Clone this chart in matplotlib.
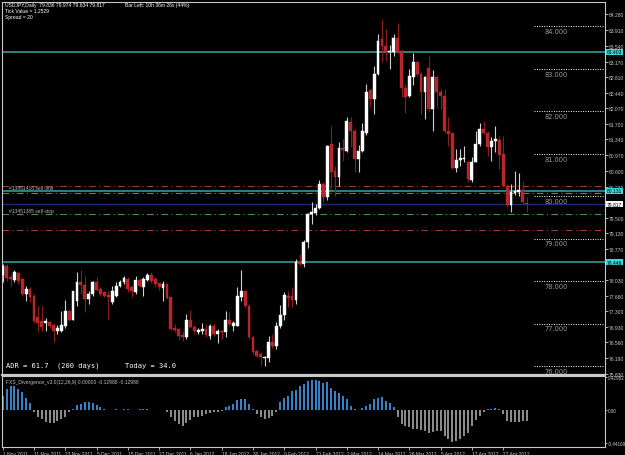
import matplotlib.pyplot as plt
import matplotlib.transforms as mtransforms

# USDJPY daily candles, 1 Nov 2011 .. 2 May 2012
opens = [78.15, 78.35, 78.10, 78.04, 78.20, 78.05, 77.70, 77.82, 77.66, 77.15,
         77.07, 77.02, 77.05, 76.97, 76.84, 76.84, 76.94, 77.31, 77.10, 77.54,
         77.99, 77.91, 77.58, 77.70, 77.98, 77.82, 77.74, 77.68, 77.51, 77.66,
         77.90, 77.99, 78.05, 77.86, 77.74, 78.03, 77.87, 78.03, 78.15, 78.05,
         77.95, 77.84, 77.93, 77.62, 76.91, 76.88, 76.74, 76.70, 77.09, 76.92,
         76.80, 76.82, 76.88, 76.72, 76.95, 76.76, 76.84, 76.80, 77.09, 76.95,
         76.95, 77.64, 77.78, 77.42, 76.68, 76.35, 76.29, 76.20, 76.20, 76.56,
         76.48, 76.95, 77.20, 77.66, 77.65, 77.55, 78.46, 78.41, 78.92, 79.58,
         79.61, 79.72, 80.29, 79.98, 81.23, 80.60, 80.45, 81.13, 81.07, 81.76,
         81.54, 80.88, 81.07, 81.50, 82.51, 82.30, 82.88, 83.69, 83.54, 83.40,
         83.39, 83.72, 83.39, 82.56, 82.37, 82.80, 83.17, 82.88, 82.45, 83.01,
         82.05, 82.80, 82.45, 82.37, 81.54, 81.49, 80.66, 80.85, 80.87, 80.81,
         80.39, 80.81, 81.23, 81.58, 81.49, 81.15, 81.29, 81.33, 80.99, 80.25,
         79.80, 80.08, 80.10, 80.15, 79.836]
highs = [78.41, 78.41, 78.17, 78.27, 78.21, 78.09, 77.88, 77.86, 77.70, 77.43,
         77.41, 77.13, 77.07, 77.02, 76.97, 77.31, 77.57, 77.33, 77.78, 78.23,
         78.27, 78.12, 77.78, 78.01, 78.09, 77.86, 77.78, 77.78, 77.90, 77.98,
         78.04, 78.13, 78.09, 77.91, 78.13, 78.07, 78.09, 78.19, 78.21, 78.09,
         77.97, 78.01, 77.95, 77.64, 76.99, 76.90, 76.84, 77.23, 77.32, 76.98,
         76.90, 77.03, 76.99, 76.99, 77.03, 76.88, 76.86, 77.31, 77.27, 77.07,
         77.86, 78.26, 77.79, 77.46, 76.72, 76.40, 76.33, 76.25, 76.72, 76.77,
         77.05, 77.45, 77.74, 77.78, 77.86, 78.52, 78.64, 78.96, 79.61, 79.87,
         79.82, 80.39, 80.33, 81.21, 81.66, 80.72, 81.28, 81.36, 81.86, 81.86,
         81.58, 81.21, 81.72, 82.64, 82.52, 83.07, 83.82, 84.17, 83.94, 83.56,
         83.82, 84.08, 83.47, 82.64, 83.00, 83.37, 83.19, 82.93, 82.84, 83.29,
         82.98, 82.84, 82.52, 82.52, 81.86, 81.50, 81.11, 81.11, 81.19, 80.84,
         80.92, 81.54, 81.72, 81.78, 81.54, 81.39, 81.66, 81.41, 81.43, 80.29,
         80.29, 80.60, 80.55, 80.37, 79.974]
lows = [77.98, 78.01, 77.90, 77.98, 77.94, 77.66, 77.54, 77.51, 77.03, 76.80,
        76.84, 76.84, 76.89, 76.56, 76.76, 76.81, 76.89, 77.07, 77.10, 77.43,
        77.70, 77.27, 77.47, 77.66, 77.76, 77.66, 77.62, 77.11, 77.47, 77.62,
        77.86, 77.94, 77.74, 77.62, 77.70, 77.86, 77.66, 78.00, 77.97, 77.86,
        77.79, 77.54, 77.58, 76.85, 76.80, 76.62, 76.59, 76.64, 76.90, 76.77,
        76.76, 76.77, 76.68, 76.64, 76.72, 76.54, 76.64, 76.68, 76.95, 76.84,
        76.95, 77.54, 77.39, 76.64, 76.29, 76.21, 76.04, 76.01, 76.11, 76.44,
        76.40, 76.90, 77.10, 77.39, 77.39, 77.47, 78.37, 78.33, 78.78, 79.35,
        79.55, 79.70, 79.86, 79.92, 80.17, 80.00, 80.25, 80.84, 81.05, 81.15,
        80.56, 80.56, 81.05, 81.44, 82.09, 81.94, 82.85, 83.17, 83.19, 83.00,
        83.31, 83.35, 82.33, 81.97, 82.33, 82.62, 82.84, 81.94, 81.82, 82.01,
        81.54, 82.09, 82.05, 81.50, 81.19, 80.64, 80.58, 80.72, 80.81, 80.33,
        80.33, 80.80, 81.19, 81.47, 80.96, 80.84, 81.05, 80.64, 80.21, 79.74,
        79.62, 80.02, 80.01, 79.82, 79.634]
closes = [78.35, 78.07, 78.05, 78.23, 78.01, 77.70, 77.82, 77.62, 77.07, 77.02,
          76.92, 77.06, 76.94, 76.84, 76.89, 76.96, 77.31, 77.10, 77.76, 77.99,
          77.91, 77.58, 77.70, 77.98, 77.80, 77.70, 77.66, 77.62, 77.76, 77.90,
          77.99, 78.07, 77.83, 77.78, 78.02, 77.90, 78.05, 78.15, 78.01, 77.93,
          77.86, 77.93, 77.60, 76.88, 76.85, 76.72, 76.70, 77.09, 76.93, 76.82,
          76.86, 76.87, 76.74, 76.95, 76.76, 76.84, 76.80, 77.09, 76.99, 77.01,
          77.66, 77.78, 77.42, 76.68, 76.33, 76.25, 76.21, 76.23, 76.56, 76.48,
          76.95, 77.20, 77.68, 77.60, 77.55, 78.45, 78.41, 78.92, 79.58, 79.64,
          79.72, 80.29, 79.98, 81.19, 80.58, 80.45, 81.13, 81.10, 81.78, 81.54,
          80.88, 81.07, 81.54, 82.45, 82.30, 82.88, 83.66, 83.54, 83.43, 83.42,
          83.72, 83.39, 82.56, 82.33, 82.84, 83.17, 82.88, 82.45, 82.80, 82.05,
          82.80, 82.45, 82.37, 81.54, 81.47, 80.66, 80.86, 80.90, 80.90, 80.41,
          80.81, 81.23, 81.58, 81.49, 81.15, 81.31, 81.35, 80.97, 80.25, 79.80,
          80.09, 80.13, 80.15, 79.86, 79.817]

# FXS_Divergence histogram
divergence = [0.185, 0.27, 0.31, 0.31, 0.27, 0.23, 0.16, 0.09, -0.035, -0.09,
              -0.12, -0.16, -0.17, -0.17, -0.15, -0.12, -0.09, -0.035, 0.01, 0.06,
              0.08, 0.10, 0.10, 0.09, 0.06, 0.03, 0.01, -0.01, -0.005, 0.003,
              0.0, 0.004, 0.004, 0.002, -0.002, 0.003, 0.004, 0.003, 0.002, 0.0,
              0.0, -0.01, -0.03, -0.10, -0.15, -0.19, -0.21, -0.18, -0.13, -0.10,
              -0.09, -0.088, -0.057, -0.044, -0.035, -0.026, -0.013, 0.031, 0.053, 0.075,
              0.132, 0.141, 0.141, 0.075, 0.01, -0.057, -0.10, -0.12, -0.115, -0.08,
              -0.035, 0.097, 0.15, 0.185, 0.24, 0.265, 0.317, 0.34, 0.38, 0.39,
              0.39, 0.38, 0.35, 0.37, 0.29, 0.25, 0.22, 0.185, 0.14, 0.053,
              0.01, -0.01, 0.018, 0.044, 0.075, 0.141, 0.15, 0.163, 0.119, 0.088,
              0.03, -0.10, -0.19, -0.21, -0.23, -0.25, -0.26, -0.27, -0.28, -0.30,
              -0.29, -0.28, -0.28, -0.34, -0.39, -0.42, -0.41, -0.39, -0.34, -0.30,
              -0.21, -0.14, -0.08, -0.03, 0.005, 0.01, 0.018, 0.01, -0.06, -0.146,
              -0.168, -0.159, -0.159, -0.146, -0.146]

date_labels = ['1 Nov 2011', '11 Nov 2011', '23 Nov 2011', '5 Dec 2011', '15 Dec 2011',
               '27 Dec 2011', '6 Jan 2012', '18 Jan 2012', '30 Jan 2012', '9 Feb 2012',
               '21 Feb 2012', '2 Mar 2012', '14 Mar 2012', '26 Mar 2012', '5 Apr 2012',
               '17 Apr 2012', '27 Apr 2012']

price_ticks = [84.28, 83.91, 83.54, 83.17, 82.81, 82.44, 82.07, 81.70, 81.34, 80.97,
               80.60, 80.23, 79.50, 79.13, 78.77, 78.03, 77.66, 77.30, 76.93,
               76.56, 76.19, 75.83]
round_levels = [84, 83, 82, 81, 80, 79, 78, 77, 76]

BULL = 'white'
BEAR = '#b8262b'
FG = '#c8c8c8'
SMALL = 'Liberation Sans'

W, H = 625, 456
fig = plt.figure(figsize=(W / 100, H / 100), dpi=100, facecolor='black')
ax = fig.add_axes([2 / W, (H - 376) / H, 603 / W, 373 / H], facecolor='black')
ax2 = fig.add_axes([2 / W, (H - 448) / H, 603 / W, 71 / H], facecolor='black')

n = len(closes)
xs = list(range(n))

# --- candles
for i in xs:
    o, h, l, c = opens[i], highs[i], lows[i], closes[i]
    col = BULL if c >= o else BEAR
    wick = '#d0d0d0' if c >= o else '#8c1c1c'
    ax.vlines(i, l, h, color=wick, lw=0.8, zorder=3)
    body = max(abs(c - o), 0.02)
    ax.bar(i, body, bottom=min(o, c), width=0.72, color=col, edgecolor=col,
           lw=0.3, zorder=4)

# --- horizontal lines (order levels, price lines)
dashdot = (0, (6, 3, 1, 3))
ax.axhline(83.403, color='#2f8c8c', lw=1.3, zorder=2)
ax.axhline(80.131, color='#2f8c8c', lw=1.3, zorder=2)
ax.axhline(78.446, color='#2f8c8c', lw=1.3, zorder=2)
ax.axhline(80.25, color='#a03a2a', lw=0.8, ls=dashdot, zorder=2)
ax.axhline(79.21, color='#a03a2a', lw=0.8, ls=dashdot, zorder=2)
ax.axhline(80.07, color='#3f9a3f', lw=0.8, ls=dashdot, zorder=2)
ax.axhline(79.58, color='#3f9a3f', lw=0.8, ls=dashdot, zorder=2)
ax.axhline(79.817, color='#1c2c78', lw=1.0, zorder=2)

# round number levels on the right
for lv in round_levels:
    ax.hlines(lv, 136, 153.5, color='white', lw=0.7, linestyles=(0, (1, 1.5)), zorder=2)
    ax.text(141.5, lv - 0.04, f'{lv:.3f}', color='#9a9a9a', fontsize=4.8,
            ha='center', va='top', zorder=2)

ax.set_xlim(-0.18, 154.04)
ax.set_ylim(75.795, 84.572)
ax.set_xticks([])
ax.yaxis.tick_right()
ax.set_yticks(price_ticks)
ax.set_yticklabels([f'{t:.3f}' for t in price_ticks], family=SMALL)
ax.tick_params(axis='y', colors=FG, labelsize=3.6, length=2.0, width=0.6, pad=1.0)
for s in ax.spines.values():
    s.set_color(FG)
    s.set_linewidth(0.8)
ax.spines['bottom'].set_linewidth(1.6)

# price labels on the right axis
trans = mtransforms.blended_transform_factory(ax.transAxes, ax.transData)
for val, face in [(83.403, '#38d8d8'), (80.131, '#38d8d8'),
                  (78.446, '#38d8d8'), (79.817, 'white')]:
    ax.text(1.003, val, f'{val:.3f}', transform=trans, fontsize=3.6, color='black',
            va='center', ha='left', clip_on=False, family=SMALL,
            bbox=dict(boxstyle='square,pad=0.12', fc=face, ec='none'))

# order labels
ax.text(1.5, 80.14, '#13451416 sell limit', color='#b0b0b0', fontsize=3.6,
        va='bottom', family=SMALL)
ax.text(1.5, 79.60, '#13451385 sell stop', color='#b0b0b0', fontsize=3.6,
        va='bottom', family=SMALL)

# ADR text
ax.text(0.8, 75.95, 'ADR = 61.7  (200 days)      Today = 34.0', color='white',
        fontsize=5.0, family='DejaVu Sans Mono', va='bottom')

# --- indicator window
cols = ['#3d8fdc' if v >= 0 else '#9a9a9a' for v in divergence]
ax2.vlines(xs, 0, divergence, colors=cols, lw=1.3)
ax2.set_xlim(-0.18, 154.04)
ax2.set_ylim(-0.49, 0.443)
ax2.yaxis.tick_right()
ax2.set_yticks([0.42982, 0.0, -0.44169])
ax2.set_yticklabels(['0.42982', '0.00', '-0.44169'], family=SMALL)
ax2.tick_params(axis='y', colors=FG, labelsize=3.3, length=1.5, width=0.6, pad=0.8)
ax2.set_xticks(list(range(0, n, 8)))
ax2.set_xticklabels(date_labels, ha='left', family=SMALL)
ax2.tick_params(axis='x', colors=FG, labelsize=3.5, length=2.5, width=0.6, pad=0.3)
for s in ax2.spines.values():
    s.set_color(FG)
    s.set_linewidth(0.8)
ax2.text(0.8, 0.40, 'FXS_Divergence_v3.0(12,26,9) 0.00000 -0.12988 -0.12988',
         color='#c0c0c0', fontsize=3.6, va='top', family=SMALL)

# header text
fig.text(5 / W, 1 - 3 / H, 'USDJPY,Daily  79.836 79.974 79.634 79.817', color='white',
         fontsize=3.6, va='top', family=SMALL)
fig.text(5 / W, 1 - 9 / H, 'Tick Value = 1.2529', color='white', fontsize=3.6,
         va='top', family=SMALL)
fig.text(5 / W, 1 - 15 / H, 'Spread = 20', color='white', fontsize=3.6,
         va='top', family=SMALL)
fig.text(125 / W, 1 - 3 / H, 'Bar Left: 10h 36m 26s (44%)', color='white',
         fontsize=3.6, va='top', family=SMALL)

fig.savefig('out.png', dpi=100, facecolor='black')
